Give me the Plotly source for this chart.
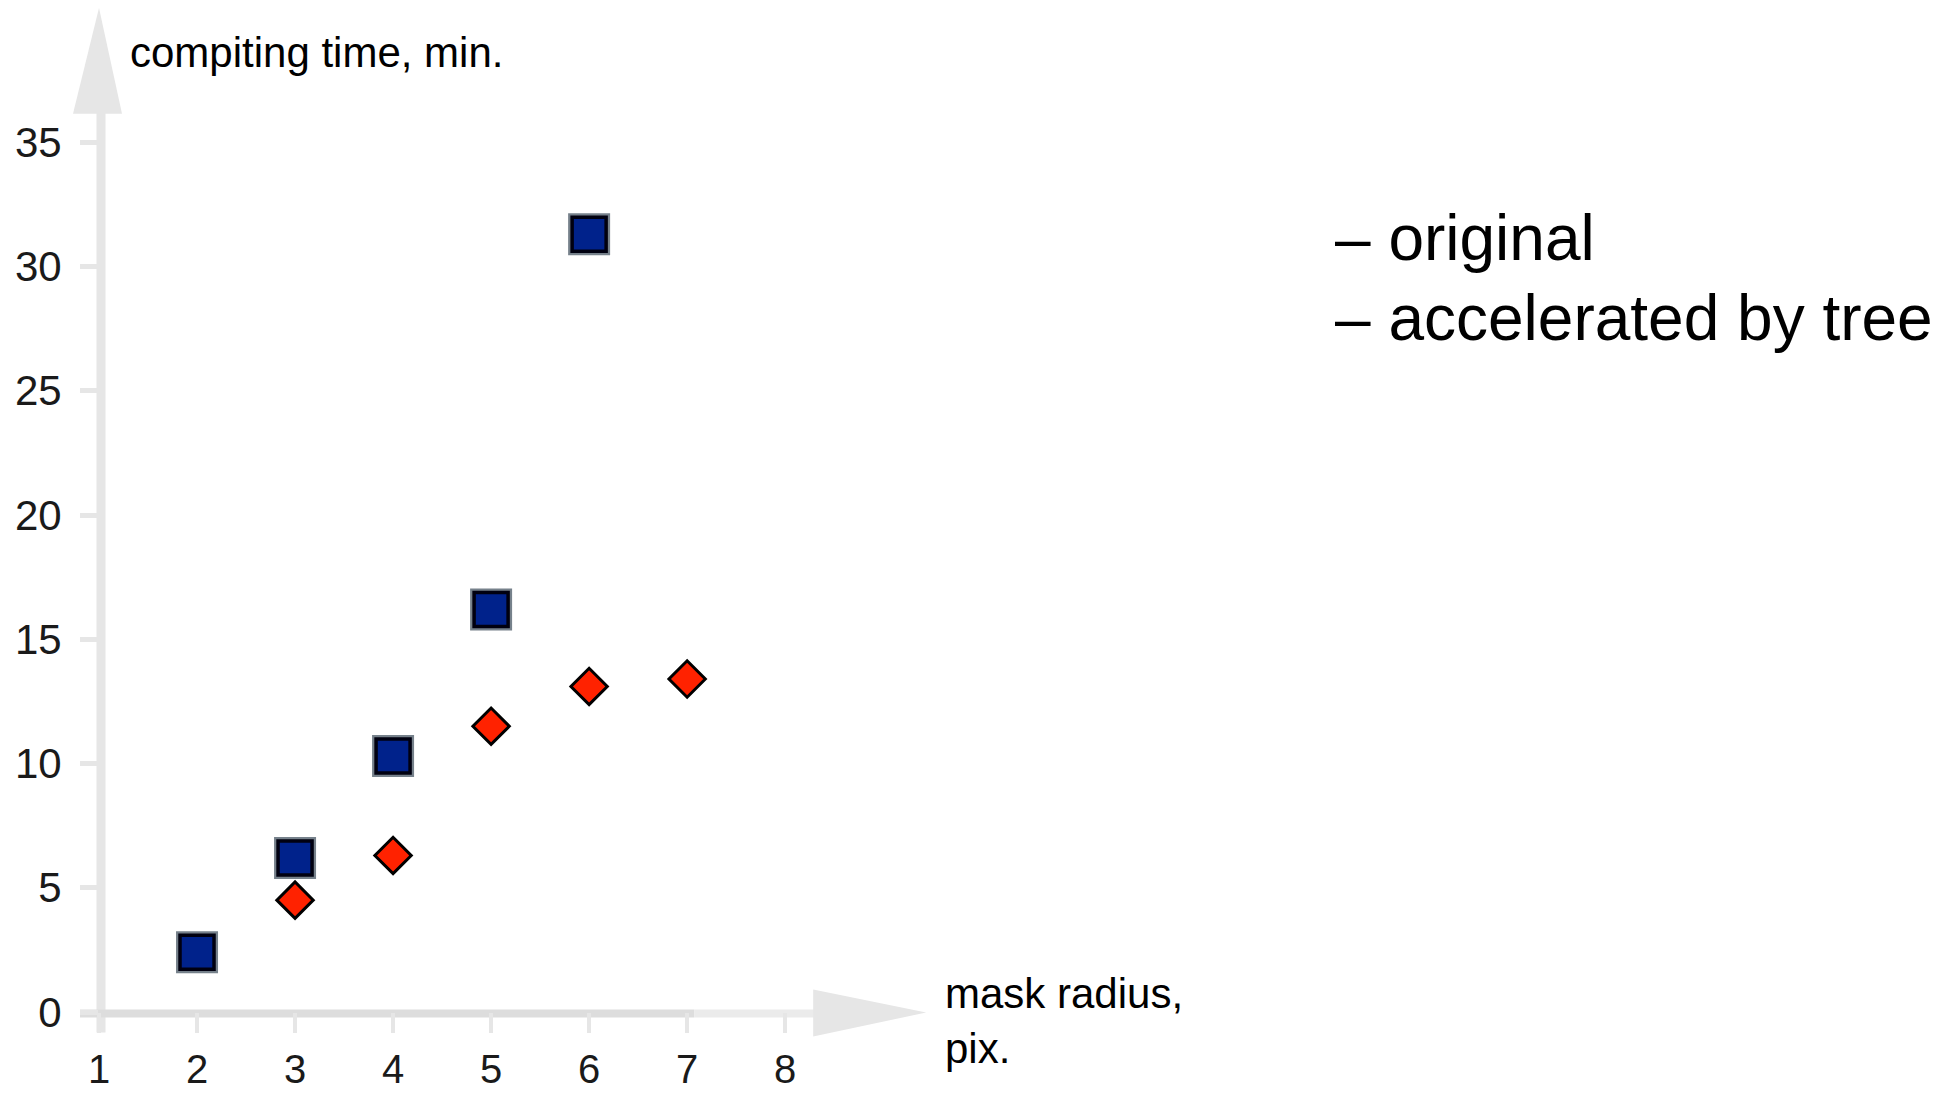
import plotly.graph_objects as go

# ---- data ----
x_original = [2, 3, 4, 5, 6]
y_original = [2.4, 6.2, 10.3, 16.2, 31.3]

x_tree = [3, 4, 5, 6, 7]
y_tree = [4.5, 6.3, 11.5, 13.1, 13.4]

x_ticks = [1, 2, 3, 4, 5, 6, 7, 8]
y_ticks = [0, 5, 10, 15, 20, 25, 30, 35]

y_title = "compiting time, min."
x_title_1 = "mask radius,"
x_title_2 = "pix."
legend_labels = ["– original", "– accelerated by tree"]

# ---- geometry (pixel targets in the 1956x1095 window) ----
OFF = 8             # default page body margin
W, H = 1956 - 2 * OFF, 1095 - 2 * OFF
L = 99.0            # window pixel of x=1
XS = 98.0           # px per x unit
X_RANGE = [1, 9.6]
Y0 = 1012.5         # window pixel of y=0
YS = 24.86          # px per y unit
Y_RANGE = [0, 40.0]
PW = (X_RANGE[1] - X_RANGE[0]) * XS
PH = (Y_RANGE[1] - Y_RANGE[0]) * YS
M_L = L - OFF
M_T = (Y0 - PH) - OFF
M_R = W - M_L - PW
M_B = H - M_T - PH


def px(xpix):
    return (xpix - L) / PW


def py(ypix):
    return (Y0 - ypix) / PH


AX = "#e6e6e6"
FONT = "Liberation Sans, Arial, sans-serif"

fig = go.Figure()

# shadow for squares
fig.add_trace(go.Scatter(
    x=x_original, y=y_original, mode="markers",
    marker=dict(symbol="square", size=42, color="rgba(60,75,90,0.7)",
                line=dict(width=0)),
    hoverinfo="skip", showlegend=False, cliponaxis=False))
fig.add_trace(go.Scatter(
    x=x_original, y=y_original, mode="markers", name="original",
    marker=dict(symbol="square", size=34, color="#00228b",
                line=dict(width=3.5, color="#000010")),
    showlegend=False, cliponaxis=False))
fig.add_trace(go.Scatter(
    x=x_tree, y=y_tree, mode="markers", name="accelerated by tree",
    marker=dict(symbol="diamond", size=28, color="#ff2200",
                line=dict(width=3, color="#000000")),
    showlegend=False, cliponaxis=False))

shapes = []
# y axis line
shapes.append(dict(type="line", xref="paper", yref="paper",
                   x0=px(101), x1=px(101), y0=py(1033), y1=py(112),
                   line=dict(color=AX, width=9), layer="below"))
# y arrow head
shapes.append(dict(type="path", xref="paper", yref="paper",
                   path=f"M {px(73)},{py(114)} L {px(99)},{py(8)} L {px(122)},{py(114)} Z",
                   fillcolor=AX, line=dict(width=0), layer="below"))
# x axis line (two tones)
shapes.append(dict(type="line", xref="paper", yref="paper",
                   x0=px(80), x1=px(694), y0=py(1014), y1=py(1014),
                   line=dict(color="#dddddd", width=8), layer="below"))
shapes.append(dict(type="line", xref="paper", yref="paper",
                   x0=px(694), x1=px(820), y0=py(1014), y1=py(1014),
                   line=dict(color="#ebebeb", width=8), layer="below"))
# x arrow head
shapes.append(dict(type="path", xref="paper", yref="paper",
                   path=f"M {px(813)},{py(990)} L {px(926)},{py(1013)} L {px(813)},{py(1037)} Z",
                   fillcolor=AX, line=dict(width=0), layer="below"))

annotations = []
annotations.append(dict(xref="paper", yref="paper", x=px(128), y=py(53),
                        text=y_title, showarrow=False, xanchor="left", yanchor="middle",
                        font=dict(family=FONT, size=42, color="#000000")))
annotations.append(dict(xref="paper", yref="paper", x=px(943), y=py(994),
                        text=x_title_1, showarrow=False, xanchor="left", yanchor="middle",
                        font=dict(family=FONT, size=42, color="#000000")))
annotations.append(dict(xref="paper", yref="paper", x=px(943), y=py(1049),
                        text=x_title_2, showarrow=False, xanchor="left", yanchor="middle",
                        font=dict(family=FONT, size=42, color="#000000")))
for lbl, yc in zip(legend_labels, [238, 318]):
    annotations.append(dict(xref="paper", yref="paper", x=px(1333), y=py(yc),
                            text=lbl, showarrow=False, xanchor="left", yanchor="middle",
                            font=dict(family=FONT, size=64, color="#000000")))

fig.update_layout(
    width=W, height=H,
    margin=dict(l=M_L, r=M_R, t=M_T, b=M_B, pad=0, autoexpand=False),
    paper_bgcolor="white", plot_bgcolor="white",
    showlegend=False,
    shapes=shapes, annotations=annotations,
    xaxis=dict(range=X_RANGE, tickvals=x_ticks, ticktext=[str(v) for v in x_ticks],
               showgrid=False, zeroline=False, showline=False,
               ticks="outside", ticklen=20, tickwidth=4, tickcolor=AX,
               ticklabelstandoff=2,
               tickfont=dict(family=FONT, size=40, color="#1a1a1a")),
    yaxis=dict(range=Y_RANGE, tickvals=y_ticks, ticktext=[str(v) for v in y_ticks],
               showgrid=False, zeroline=False, showline=False,
               ticks="outside", ticklen=18, tickwidth=5, tickcolor=AX,
               ticklabelstandoff=10,
               tickfont=dict(family=FONT, size=42, color="#1a1a1a")),
)

fig.write_html("out.html")
